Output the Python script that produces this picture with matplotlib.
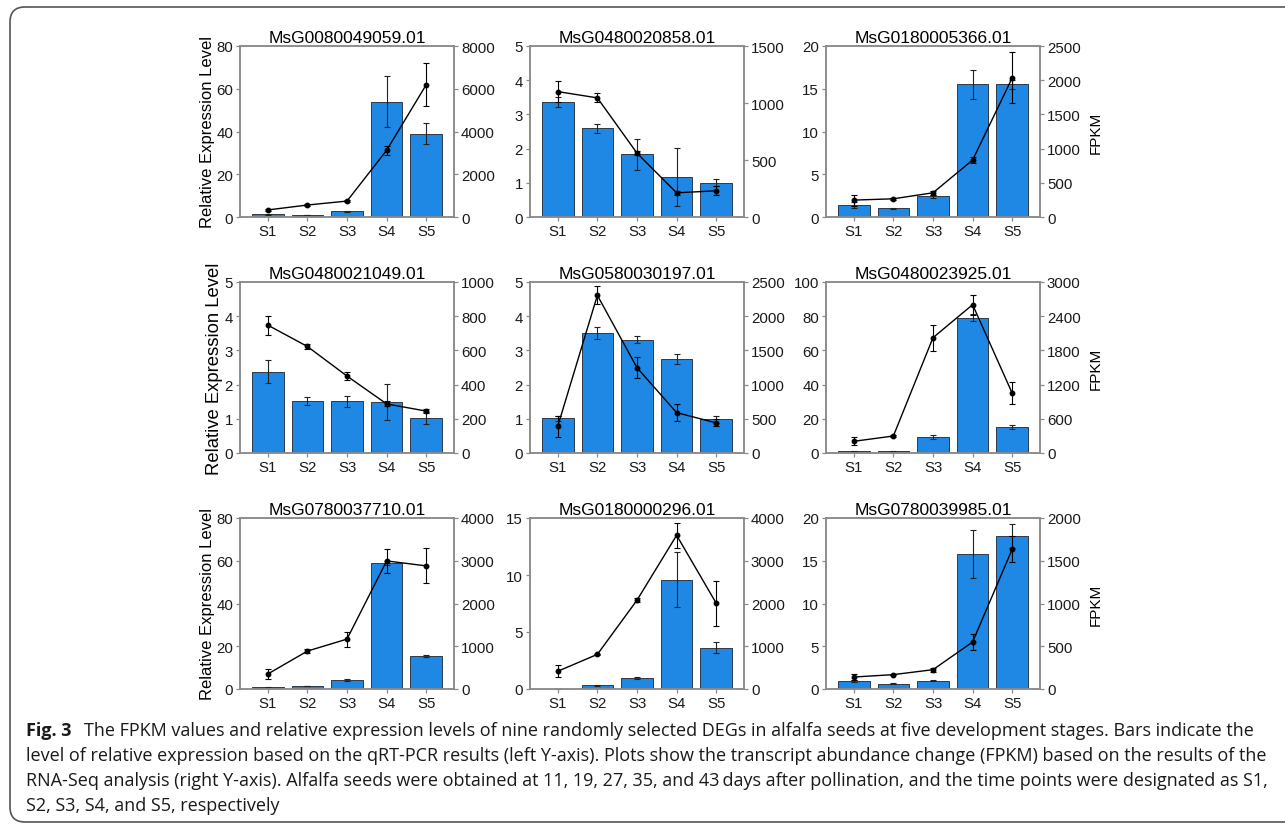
import matplotlib
matplotlib.use("Agg")
import matplotlib.pyplot as plt
from matplotlib.patches import FancyBboxPatch
import numpy as np

# stages and genes
stages = ["S1", "S2", "S3", "S4", "S5"]
genes = ["MsG0080049059.01", "MsG0480020858.01", "MsG0180005366.01",
         "MsG0480021049.01", "MsG0580030197.01", "MsG0480023925.01",
         "MsG0780037710.01", "MsG0180000296.01", "MsG0780039985.01"]

# qRT-PCR relative expression (bars, left axis)
rel = [
    [1.2, 1.0, 2.6, 54, 39],
    [3.37, 2.6, 1.83, 1.18, 1.0],
    [1.4, 1.0, 2.4, 15.5, 15.5],
    [2.38, 1.51, 1.51, 1.49, 1.03],
    [1.01, 3.5, 3.31, 2.75, 0.99],
    [1.0, 1.0, 9.4, 79, 15.4],
    [0.8, 1.4, 4.2, 59.1, 15.4],
    [0.03, 0.31, 0.97, 9.58, 3.62],
    [0.97, 0.62, 0.97, 15.75, 17.9],
]
rel_err = [
    [0.2, 0.1, 0.2, 12, 5],
    [0.15, 0.13, 0.45, 0.85, 0.1],
    [0.3, 0.05, 0.2, 1.7, 0.5],
    [0.34, 0.12, 0.16, 0.53, 0.17],
    [0.08, 0.17, 0.1, 0.15, 0.1],
    [0.3, 0.3, 1.0, 2.0, 1.2],
    [0.2, 0.2, 0.3, 1.0, 0.5],
    [0.0, 0.03, 0.08, 2.4, 0.5],
    [0.1, 0.05, 0.08, 2.8, 1.36],
]

# RNA-Seq FPKM (line, right axis)
fpkm = [
    [330, 560, 745, 3120, 6190],
    [1100, 1045, 560, 212, 230],
    [247, 266, 354, 833, 2035],
    [748, 623, 450, 287, 245],
    [390, 2305, 1247, 590, 440],
    [205, 298, 2023, 2602, 1047],
    [350, 887, 1167, 2996, 2880],
    [415, 810, 2078, 3595, 2005],
    [140, 168, 226, 550, 1637],
]
fpkm_err = [
    [60, 30, 40, 200, 1000],
    [90, 40, 20, 20, 40],
    [80, 15, 30, 40, 370],
    [56, 12, 25, 15, 12],
    [150, 130, 155, 120, 50],
    [67, 10, 230, 175, 196],
    [117, 40, 175, 276, 408],
    [140, 10, 50, 296, 520],
    [40, 10, 25, 97, 157],
]

# axis ranges
left_max = [80, 5, 20, 5, 5, 100, 80, 15, 20]
left_step = [20, 1, 5, 1, 1, 20, 20, 5, 5]
right_max = [8000, 1500, 2500, 1000, 2500, 3000, 4000, 4000, 2000]
right_step = [2000, 500, 500, 200, 500, 600, 1000, 1000, 500]

caption_lines = [
    "The FPKM values and relative expression levels of nine randomly selected DEGs in alfalfa seeds at five development stages. Bars indicate the",
    "level of relative expression based on the qRT-PCR results (left Y-axis). Plots show the transcript abundance change (FPKM) based on the results of the",
    "RNA-Seq analysis (right Y-axis). Alfalfa seeds were obtained at 11, 19, 27, 35, and 43\u2009days after pollination, and the time points were designated as S1,",
    "S2, S3, S4, and S5, respectively",
]

W, H = 1285, 829
fig = plt.figure(figsize=(W / 100, H / 100), dpi=100)
plt.rcParams['font.family'] = ['Liberation Sans', 'DejaVu Sans']

bar_color = '#1f88e5'
spine_color = '#8a8a8a'

col_left = [240, 530, 826]
row_top = [47, 283, 519]
ax_w, ax_h = 214, 171
ylab_size = [12, 13.3, 12]

x = np.arange(len(stages))
for i in range(9):
    r, c = divmod(i, 3)
    ax = fig.add_axes([col_left[c] / W, (H - row_top[r] - ax_h) / H, ax_w / W, ax_h / H])
    ax.bar(x, rel[i], width=0.8, color=bar_color, edgecolor='#2b3a4a', linewidth=0.7,
           yerr=rel_err[i], capsize=2.5,
           error_kw=dict(elinewidth=0.8, ecolor='#222222', capthick=0.8))
    ax.set_xlim(-0.7, 4.7)
    ax.set_ylim(0, left_max[i])
    ax.set_yticks(np.arange(0, left_max[i] + 0.001, left_step[i]))
    ax.set_xticks(x)
    ax.set_xticklabels(stages)
    ax.set_title(genes[i], fontsize=12.5, pad=3)

    ax2 = ax.twinx()
    ax2.errorbar(x, fpkm[i], yerr=fpkm_err[i], color='black', linewidth=1.0,
                 marker='o', markersize=3.2, capsize=2.5, elinewidth=0.8, capthick=0.8)
    ax2.set_ylim(0, right_max[i])
    ax2.set_yticks(np.arange(0, right_max[i] + 1, right_step[i]))

    for a in (ax, ax2):
        for s in a.spines.values():
            s.set_color(spine_color)
            s.set_linewidth(1.1)
        a.tick_params(direction='out', length=3, width=0.9, color=spine_color,
                      labelsize=10.8, labelcolor='#1a1a1a', pad=2)

    if c == 0:
        ax.set_ylabel("Relative Expression Level", fontsize=ylab_size[r], labelpad=1)
    if c == 2:
        ax2.set_ylabel("FPKM", fontsize=11, labelpad=6)

# caption
cap_size = 13.0
fig.text(26 / W, 1 - 731 / H, "Fig. 3", fontsize=cap_size, fontweight='bold',
         family='Open Sans', va='center', ha='left', color='#1a1a1a')
fig.text(84 / W, 1 - 731 / H, caption_lines[0], fontsize=cap_size,
         family='Open Sans', va='center', ha='left', color='#1a1a1a')
for k, line in enumerate(caption_lines[1:]):
    fig.text(26 / W, 1 - (756 + 25 * k) / H, line, fontsize=cap_size,
             family='Open Sans', va='center', ha='left', color='#1a1a1a')

# rounded frame
frame = FancyBboxPatch((0.10, 0.06), 13.3, 8.15, boxstyle="round,pad=0,rounding_size=0.15",
                       transform=fig.dpi_scale_trans, fill=False, edgecolor='#555555',
                       linewidth=1.2)
fig.add_artist(frame)

fig.savefig("out.png", dpi=100)
